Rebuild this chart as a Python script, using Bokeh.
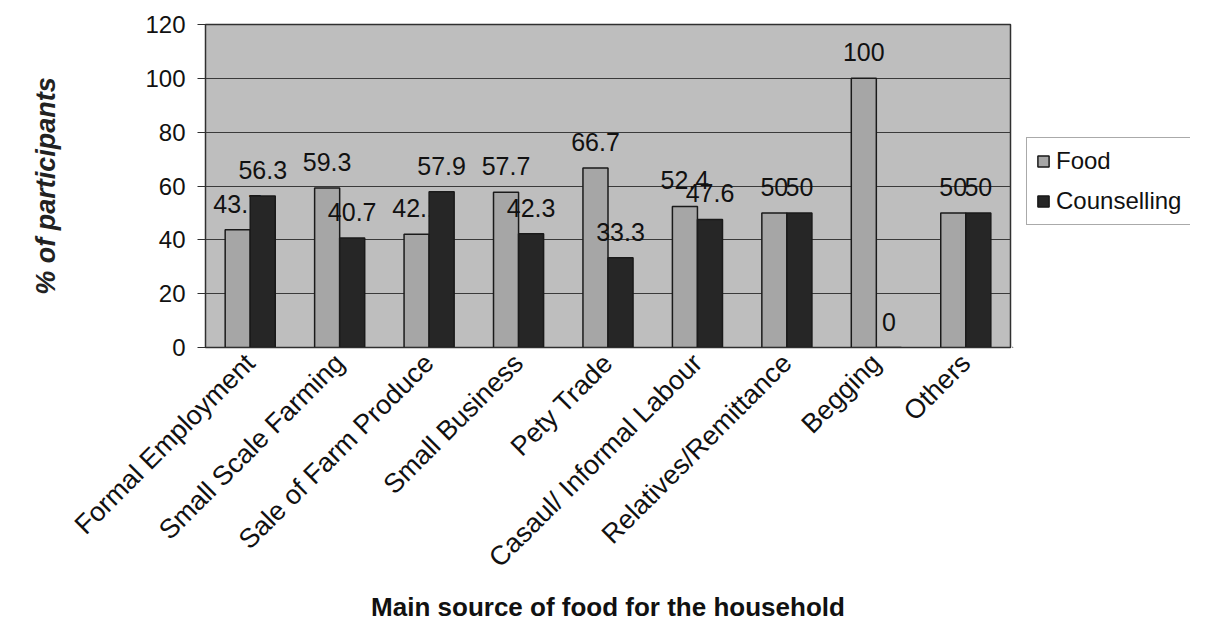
from bokeh.plotting import figure
from bokeh.layouts import row
from bokeh.models import ColumnDataSource, FactorRange, Legend, LegendItem, FixedTicker, Range1d
from bokeh.transform import dodge
from bokeh.embed import file_html
from bokeh.resources import INLINE
from bokeh.core.properties import value

categories = ["Formal Employment", "Small Scale Farming", "Sale of Farm Produce",
              "Small Business", "Pety Trade", "Casaul/ Informal Labour",
              "Relatives/Remittance", "Begging", "Others"]
food = [43.7, 59.3, 42.1, 57.7, 66.7, 52.4, 50, 100, 50]
counselling = [56.3, 40.7, 57.9, 42.3, 33.3, 47.6, 50, 0, 50]
y_ticks = [0, 20, 40, 60, 80, 100, 120]
series_names = ["Food", "Counselling"]
series_colors = ["#a6a6a6", "#262626"]

FONT = "Liberation Sans"
src = ColumnDataSource(dict(
    cat=categories, food=food, counselling=counselling,
    food_lbl=[f"{v:g}" for v in food],
    couns_lbl=[f"{v:g}" for v in counselling],
))

H = 628
TOP, BOTTOM = 24, 281
p = figure(x_range=FactorRange(*categories, range_padding=0), y_range=Range1d(0, 120),
           width=1012, height=H, output_backend="svg", toolbar_location=None,
           min_border_left=205, min_border_right=2, min_border_top=TOP, min_border_bottom=BOTTOM,
           background_fill_color="#bebebe", border_fill_color="white")

p.outline_line_color = "#303030"
p.outline_line_width = 1.5
p.xgrid.grid_line_color = None
p.ygrid.grid_line_color = "#3a3a3a"
p.ygrid.grid_line_width = 1.2
p.ygrid.ticker = FixedTicker(ticks=y_ticks)

w = 0.28
p.vbar(x=dodge("cat", -0.14, range=p.x_range), top="food", width=w, source=src,
       fill_color=series_colors[0], line_color="#1a1a1a", line_width=1.5)
p.text(x=dodge("cat", -0.14, range=p.x_range), y="food", text="food_lbl", source=src,
       y_offset=-26, text_align="center", text_baseline="middle",
       text_font=value(FONT), text_font_size="25px", text_color="#111111")
p.vbar(x=dodge("cat", 0.14, range=p.x_range), top="counselling", width=w, source=src,
       fill_color=series_colors[1], line_color="#1a1a1a", line_width=1.5)
p.text(x=dodge("cat", 0.14, range=p.x_range), y="counselling", text="couns_lbl", source=src,
       y_offset=-26, text_align="center", text_baseline="middle",
       text_font=value(FONT), text_font_size="25px", text_color="#111111")

# axes
p.yaxis.ticker = FixedTicker(ticks=y_ticks)
p.yaxis.axis_line_color = "#303030"
p.yaxis.major_tick_line_color = "#303030"
p.yaxis.major_tick_out = 8
p.yaxis.major_tick_in = 0
p.yaxis.minor_tick_line_color = None
p.yaxis.major_label_standoff = 12
p.yaxis.major_label_text_font = FONT
p.yaxis.major_label_text_font_size = "24px"
p.yaxis.major_label_text_color = "#111111"
p.yaxis.axis_label = "% of participants"
p.yaxis.axis_label_text_font = FONT
p.yaxis.axis_label_text_font_style = "bold italic"
p.yaxis.axis_label_text_font_size = "27px"
p.yaxis.axis_label_text_color = "#222222"
p.yaxis.axis_label_standoff = 81

p.xaxis.axis_line_color = "#303030"
p.xaxis.major_tick_line_color = None
p.xaxis.major_label_orientation = 0.785398
p.xaxis.major_label_standoff = 5
p.xaxis.major_label_text_font = FONT
p.xaxis.major_label_text_font_size = "27px"
p.xaxis.major_label_text_color = "#111111"
p.xaxis.axis_label = "Main source of food for the household"
p.xaxis.axis_label_text_font = FONT
p.xaxis.axis_label_text_font_style = "bold"
p.xaxis.axis_label_text_font_size = "26px"
p.xaxis.axis_label_text_color = "#111111"
p.xaxis.axis_label_standoff = 6

# legend panel: a separate figure to the right whose frame aligns with the chart's frame
lf = figure(width=178, height=H, output_backend="svg", toolbar_location=None,
            x_range=Range1d(0, 1), y_range=Range1d(1, 2),
            min_border_left=0, min_border_top=TOP, min_border_right=0, min_border_bottom=BOTTOM,
            outline_line_color=None, border_fill_color="white",
            background_fill_color="white")
lf.axis.visible = False
lf.grid.visible = False
items = []
for name, col in zip(series_names, series_colors):
    # swatch renderer lying outside the visible ranges, used only for the legend glyph
    r = lf.vbar(x=[-5], top=[0], bottom=0, width=0.1, fill_color=col,
                line_color="#1a1a1a", line_width=1.5)
    items.append(LegendItem(label=name, renderers=[r]))
legend = Legend(items=items, location=(14, 122), margin=0, padding=9, spacing=12,
                label_text_font=FONT, label_text_font_size="24px",
                label_text_color="#111111", glyph_width=14, glyph_height=14,
                label_standoff=6, border_line_color="#555555",
                border_line_width=1.5, background_fill_color="white")
lf.add_layout(legend)

layout = row(p, lf)
open("out.html", "w").write(file_html(layout, INLINE))
